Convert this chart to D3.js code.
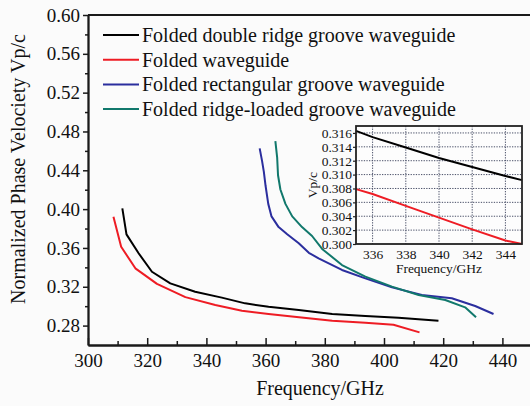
<!DOCTYPE html>
<html>
<head>
<meta charset="utf-8">
<script src="https://cdn.jsdelivr.net/npm/d3@7"></script>
<style>
  body { margin: 0; background: #fbfbfb; }
  svg text { font-family: "Liberation Serif", "DejaVu Serif", serif; fill: #111; }
</style>
</head>
<body>
<div id="chart"></div>
<script>
// main chart series (frequency in GHz, normalized phase velocity)
const freqDoubleRidge = [311.6, 313, 317.1, 321.6, 327.8, 336.2, 345.2, 353.1, 361, 371.2, 382.5, 393.7, 404.9, 418.4];
const vpDoubleRidge = [0.4008, 0.374, 0.3545, 0.3355, 0.3235, 0.3149, 0.3088, 0.3029, 0.2993, 0.2961, 0.292, 0.2899, 0.2882, 0.2851];

const freqFolded = [308.6, 311.2, 316, 323.3, 332.9, 343, 352, 361, 371.3, 382.5, 393.7, 403.2, 412];
const vpFolded = [0.3922, 0.3612, 0.339, 0.323, 0.3093, 0.3013, 0.2953, 0.292, 0.2885, 0.285, 0.283, 0.2809, 0.273];

const freqRect = [358, 358.8, 359.4, 360, 360.9, 362, 364.4, 367.3, 371.2, 374.6, 377.9, 385.8, 393.7, 402.7, 412.8, 422.9, 430.8, 437];
const vpRect = [0.4626, 0.4497, 0.4386, 0.4238, 0.4054, 0.3925, 0.3815, 0.3741, 0.3648, 0.3550, 0.3493, 0.3373, 0.3287, 0.3194, 0.3115, 0.3081, 0.3002, 0.2919];

const freqRidgeLoaded = [363.3, 363.9, 364.2, 365, 366.7, 369, 372.3, 375.7, 379.1, 385.8, 393.7, 402.7, 411.7, 420.7, 427.4, 431.1];
const vpRidgeLoaded = [0.47, 0.4534, 0.4349, 0.4202, 0.4054, 0.3925, 0.3815, 0.3723, 0.359, 0.3424, 0.3304, 0.3201, 0.3115, 0.3064, 0.2988, 0.2885];

const legendLabels = [
    "Folded double ridge groove waveguide",
    "Folded waveguide",
    "Folded rectangular groove waveguide",
    "Folded ridge-loaded groove waveguide"
];
const colors = ["#000000", "#ee1c24", "#2b2e9e", "#11786c"];

// tick values
const xTicks = [300, 320, 340, 360, 380, 400, 420, 440];
const xMinorTicks = [310, 330, 350, 370, 390, 410, 430];
const yTicks = [0.28, 0.32, 0.36, 0.40, 0.44, 0.48, 0.52, 0.56, 0.60];
const yMinorTicks = [0.30, 0.34, 0.38, 0.42, 0.46, 0.50, 0.54, 0.58];

// inset (zoomed 335-345 GHz)
const insetFreq = [335, 336, 338, 340, 342, 344, 345];
const insetDoubleRidge = [0.3163, 0.3154, 0.3139, 0.3124, 0.3111, 0.3098, 0.3092];
const insetFolded = [0.3079, 0.3072, 0.3055, 0.3038, 0.3021, 0.3005, 0.3000];
const insetXTicks = [336, 338, 340, 342, 344];
const insetYTicks = [0.300, 0.302, 0.304, 0.306, 0.308, 0.310, 0.312, 0.314, 0.316];

const width = 530;
const height = 406;
const serif = "'Liberation Serif', 'DejaVu Serif', serif";

const svg = d3.select("#chart")
    .append("svg")
    .attr("width", width)
    .attr("height", height)
    .style("font-family", serif);

// Scales for main plot
const x = d3.scaleLinear().domain([300, 450]).range([88, 532]);
const y = d3.scaleLinear().domain([0.26, 0.60]).range([345, 15]);

const axisColor = "#1a1a1a";

// x axis, ticks point inward
const xAxis = svg.append("g")
    .attr("transform", "translate(0,345)")
    .call(d3.axisBottom(x).tickValues(xTicks).tickSize(-7).tickSizeOuter(0).tickPadding(9));
xAxis.append("g")
    .call(d3.axisBottom(x).tickValues(xMinorTicks).tickSize(-4).tickSizeOuter(0).tickFormat(""));

// y axis, ticks point outward
const yAxis = svg.append("g")
    .attr("transform", "translate(88,0)")
    .call(d3.axisLeft(y).tickValues(yTicks).tickFormat(d3.format(".2f")).tickSize(5).tickSizeOuter(0).tickPadding(3));
yAxis.append("g")
    .call(d3.axisLeft(y).tickValues(yMinorTicks).tickSize(3).tickSizeOuter(0).tickFormat(""));

svg.selectAll("g").attr("font-family", null);
svg.selectAll(".domain").attr("stroke", axisColor).attr("stroke-width", 1.8);
svg.selectAll(".tick line").attr("stroke", axisColor).attr("stroke-width", 1.5);
svg.selectAll(".tick text")
    .attr("font-size", 19)
    .style("font-family", serif)
    .attr("fill", "#111");

// top frame line
svg.append("line")
    .attr("x1", 88).attr("x2", 532)
    .attr("y1", y(0.60)).attr("y2", y(0.60))
    .attr("stroke", axisColor)
    .attr("stroke-width", 1.8);

// axis titles
svg.append("text")
    .attr("x", 320)
    .attr("y", 395)
    .attr("text-anchor", "middle")
    .attr("font-size", 20)
    .style("font-family", serif)
    .text("Frequency/GHz");

svg.append("text")
    .attr("transform", "translate(25,169) rotate(-90)")
    .attr("text-anchor", "middle")
    .attr("font-size", 20)
    .style("font-family", serif)
    .text("Normalized Phase Velociety Vp/c");

// curves
const series = [
    { f: freqDoubleRidge, v: vpDoubleRidge },
    { f: freqFolded, v: vpFolded },
    { f: freqRect, v: vpRect },
    { f: freqRidgeLoaded, v: vpRidgeLoaded }
];

const line = d3.line()
    .x(d => x(d[0]))
    .y(d => y(d[1]));

series.forEach((s, i) => {
    svg.append("path")
        .datum(s.f.map((f, j) => [f, s.v[j]]))
        .attr("fill", "none")
        .attr("stroke", colors[i])
        .attr("stroke-width", 2)
        .attr("stroke-linejoin", "round")
        .attr("d", line);
});

// legend
const legend = svg.append("g");
legendLabels.forEach((label, i) => {
    const ly = 35 + i * 24.7;
    legend.append("line")
        .attr("x1", 103).attr("x2", 139)
        .attr("y1", ly).attr("y2", ly)
        .attr("stroke", colors[i])
        .attr("stroke-width", 2);
    legend.append("text")
        .attr("x", 142)
        .attr("y", ly + 6.8)
        .attr("font-size", 20)
        .style("font-family", serif)
        .text(label);
});

// inset
const ix = d3.scaleLinear().domain([335, 345]).range([356, 522]);
const iy = d3.scaleLinear().domain([0.300, 0.317]).range([244, 126]);

const inset = svg.append("g");

inset.append("rect")
    .attr("x", 356).attr("y", 126)
    .attr("width", 166).attr("height", 118)
    .attr("fill", "#fdfdfd");

// dotted grid
inset.selectAll(".vgrid")
    .data(insetXTicks)
    .enter()
    .append("line")
    .attr("x1", d => ix(d)).attr("x2", d => ix(d))
    .attr("y1", 126).attr("y2", 244)
    .attr("stroke", "#4a5068")
    .attr("stroke-width", 1)
    .attr("stroke-dasharray", "1.3,1.3");

inset.selectAll(".hgrid")
    .data(insetYTicks.slice(1))
    .enter()
    .append("line")
    .attr("x1", 356).attr("x2", 522)
    .attr("y1", d => iy(d)).attr("y2", d => iy(d))
    .attr("stroke", "#4a5068")
    .attr("stroke-width", 1)
    .attr("stroke-dasharray", "1.3,1.3");

const insetLine = d3.line()
    .x(d => ix(d[0]))
    .y(d => iy(d[1]));

[insetDoubleRidge, insetFolded].forEach((vals, i) => {
    inset.append("path")
        .datum(insetFreq.map((f, j) => [f, vals[j]]))
        .attr("fill", "none")
        .attr("stroke", colors[i])
        .attr("stroke-width", 2)
        .attr("d", insetLine);
});

inset.append("rect")
    .attr("x", 356).attr("y", 126)
    .attr("width", 166).attr("height", 118)
    .attr("fill", "none")
    .attr("stroke", "#222")
    .attr("stroke-width", 1.8);

// inset axes
const ixAxis = inset.append("g")
    .attr("transform", "translate(0,244)")
    .call(d3.axisBottom(ix).tickValues(insetXTicks).tickSize(0).tickSizeOuter(0).tickPadding(5));
const iyAxis = inset.append("g")
    .attr("transform", "translate(356,0)")
    .call(d3.axisLeft(iy).tickValues(insetYTicks).tickFormat(d3.format(".3f")).tickSize(3).tickSizeOuter(0).tickPadding(1));

[ixAxis, iyAxis].forEach(g => {
    g.attr("font-family", null);
    g.select(".domain").remove();
    g.selectAll(".tick line").attr("stroke", "#222").attr("stroke-width", 1.2);
    g.selectAll(".tick text")
        .attr("font-size", 13.5)
        .style("font-family", serif)
        .attr("fill", "#111");
});

inset.append("text")
    .attr("x", 439)
    .attr("y", 273)
    .attr("text-anchor", "middle")
    .attr("font-size", 13.5)
    .style("font-family", serif)
    .text("Frequency/GHz");

inset.append("text")
    .attr("transform", "translate(317,185) rotate(-90)")
    .attr("text-anchor", "middle")
    .attr("font-size", 13.5)
    .style("font-family", serif)
    .text("Vp/c");
</script>
</body>
</html>
